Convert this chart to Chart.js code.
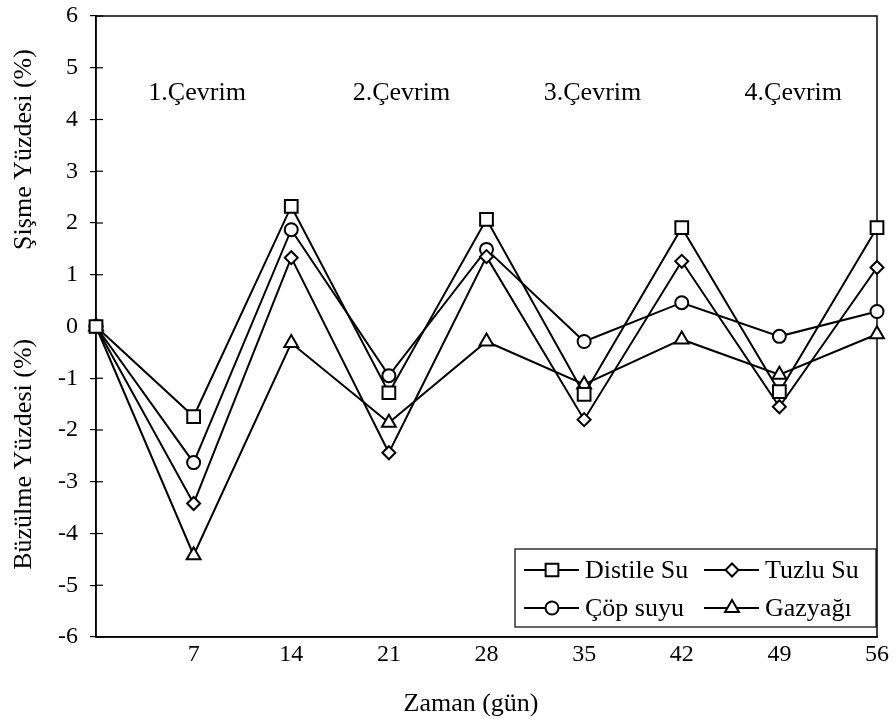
<!DOCTYPE html>
<html><head><meta charset="utf-8">
<style>html,body{margin:0;padding:0;background:#fff}#wrap{width:896px;height:725px}</style>
<script src="https://cdn.jsdelivr.net/npm/chart.js@4.4.1/dist/chart.umd.min.js"></script>
</head><body><div id="wrap"><canvas id="c" width="896" height="725"></canvas></div>
<script>
const days = [0, 7, 14, 21, 28, 35, 42, 49, 56];
const distileSu = [0, -1.74, 2.32, -1.28, 2.07, -1.31, 1.91, -1.26, 1.91];
const tuzluSu  = [0, -3.42, 1.33, -2.44, 1.35, -1.80, 1.26, -1.55, 1.14];
const copSuyu  = [0, -2.63, 1.87, -0.95, 1.49, -0.29, 0.46, -0.19, 0.29];
const gazyagi  = [0, -4.42, -0.32, -1.86, -0.29, -1.12, -0.25, -0.93, -0.15];
const seriesNames = ['Distile Su', 'Tuzlu Su', 'Çöp suyu', 'Gazyağı'];
const cycleLabels = ['1.Çevrim', '2.Çevrim', '3.Çevrim', '4.Çevrim'];
const yTitles = ['Şişme Yüzdesi (%)', 'Büzülme Yüzdesi (%)'];
const xTitle = 'Zaman (gün)';

const FONT = "'Liberation Serif', 'Times New Roman', serif";
const styles = [
  {pointStyle: 'rect', r: 9},
  {pointStyle: 'rectRot', r: 6.5},
  {pointStyle: 'circle', r: 6.5},
  {pointStyle: 'triangle', r: 8}
];
const seriesData = [distileSu, tuzluSu, copSuyu, gazyagi];

const datasets = seriesData.map((vals, i) => ({
  label: seriesNames[i],
  data: days.map((d, j) => ({x: d, y: vals[j]})),
  borderColor: '#000',
  backgroundColor: '#fff',
  borderWidth: 2,
  pointStyle: styles[i].pointStyle,
  pointRadius: styles[i].r,
  pointBorderWidth: 2,
  pointBorderColor: '#000',
  pointBackgroundColor: '#fff',
  tension: 0,
  clip: false
}));

function drawMarker(ctx, style, x, y, r) {
  ctx.beginPath();
  if (style === 'rect') {
    const s = r * Math.SQRT1_2;
    ctx.rect(x - s, y - s, 2 * s, 2 * s);
  } else if (style === 'rectRot') {
    ctx.moveTo(x, y - r); ctx.lineTo(x + r, y); ctx.lineTo(x, y + r); ctx.lineTo(x - r, y); ctx.closePath();
  } else if (style === 'circle') {
    ctx.arc(x, y, r, 0, Math.PI * 2);
  } else {
    const w = r * Math.sqrt(3) / 2;
    ctx.moveTo(x, y - r); ctx.lineTo(x + w, y + r / 2); ctx.lineTo(x - w, y + r / 2); ctx.closePath();
  }
  ctx.fillStyle = '#fff'; ctx.fill();
  ctx.lineWidth = 2; ctx.strokeStyle = '#000'; ctx.stroke();
}

const decor = {
  id: 'decor',
  beforeDatasetsDraw(chart) {
    const {ctx, chartArea: a, scales} = chart;
    ctx.save();
    ctx.strokeStyle = '#000';
    ctx.lineWidth = 1.5;
    ctx.strokeRect(a.left, a.top, a.right - a.left, a.bottom - a.top);
    ctx.lineWidth = 1.2;
    scales.y.ticks.forEach(t => {
      const py = scales.y.getPixelForValue(t.value);
      ctx.beginPath(); ctx.moveTo(a.left, py); ctx.lineTo(a.left + 7, py); ctx.stroke();
    });
    ctx.restore();
  },
  afterDraw(chart) {
    const {ctx, chartArea: a, scales} = chart;
    const xs = scales.x, ys = scales.y;
    ctx.save();
    ctx.fillStyle = '#000';
    ctx.font = '26px ' + FONT;
    ctx.textAlign = 'center'; ctx.textBaseline = 'middle';
    const cx = [7.25, 21.9, 35.6, 50.0];
    cycleLabels.forEach((t, i) => ctx.fillText(t, xs.getPixelForValue(cx[i]), ys.getPixelForValue(4.5)));
    ctx.font = '26px ' + FONT;
    const yc = [3.42, -2.47];
    yTitles.forEach((t, i) => {
      ctx.save();
      ctx.translate(24, ys.getPixelForValue(yc[i]));
      ctx.rotate(-Math.PI / 2);
      ctx.fillText(t, 0, 0);
      ctx.restore();
    });
    ctx.fillText(xTitle, 471, 704);
    // legend
    const L = 515, T = 549, R = a.right - 1, B = a.bottom - 10;
    ctx.lineWidth = 1.2; ctx.strokeStyle = '#000';
    ctx.strokeRect(L, T, R - L, B - T);
    const cols = [L + 9, L + 189];
    const rows = [T + 21, T + 59];
    const order = [[0, 0, 0], [1, 1, 0], [2, 0, 1], [3, 1, 1]];
    ctx.font = '26px ' + FONT;
    ctx.textAlign = 'left';
    order.forEach(([si, c, r]) => {
      const x0 = cols[c], y0 = rows[r];
      ctx.beginPath(); ctx.moveTo(x0, y0); ctx.lineTo(x0 + 55, y0);
      ctx.lineWidth = 2; ctx.strokeStyle = '#000'; ctx.stroke();
      drawMarker(ctx, styles[si].pointStyle, x0 + 28, y0, styles[si].r);
      ctx.fillStyle = '#000';
      ctx.fillText(seriesNames[si], x0 + 61, y0 + 1);
    });
    ctx.restore();
  }
};

new Chart(document.getElementById('c'), {
  type: 'line',
  data: {datasets},
  options: {
    responsive: false,
    animation: false,
    layout: {padding: {top: 16, right: 19, left: 0, bottom: 0}},
    plugins: {legend: {display: false}, tooltip: {enabled: false}},
    scales: {
      x: {
        type: 'linear', min: 0, max: 56,
        afterFit: s => { s.height = 88; s.paddingLeft = 0; s.paddingRight = 0; },
        ticks: {stepSize: 7, color: '#000', padding: 3, font: {family: FONT, size: 24},
          callback: v => v === 0 ? '' : v, maxRotation: 0},
        grid: {display: false, drawTicks: false},
        border: {display: true, color: '#000', width: 1.5}
      },
      y: {
        min: -6, max: 6,
        afterFit: s => { s.width = 96; s.paddingTop = 0; s.paddingBottom = 0; },
        ticks: {stepSize: 1, color: '#000', padding: 12, font: {family: FONT, size: 24}},
        grid: {drawOnChartArea: false, drawTicks: true, tickLength: 6, color: '#000', lineWidth: 1.2},
        border: {display: true, color: '#000', width: 1.5}
      }
    }
  },
  plugins: [decor]
});
</script>
</body></html>
